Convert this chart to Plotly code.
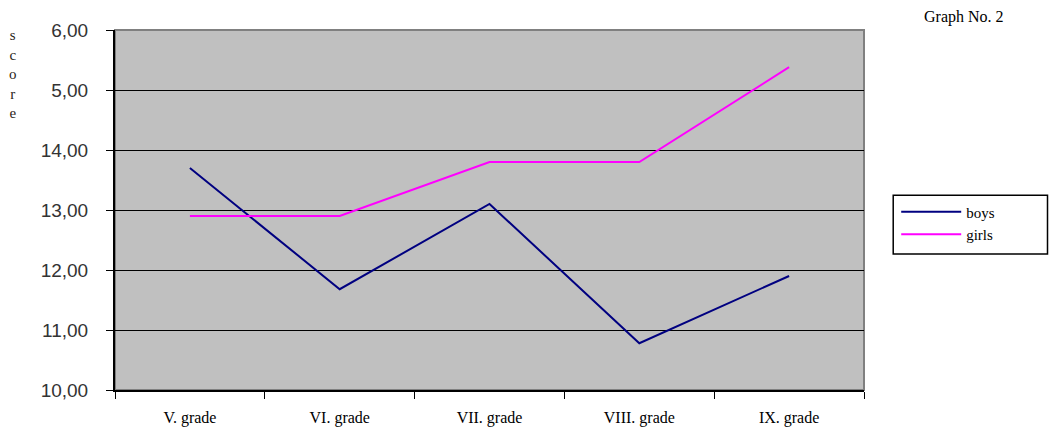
import plotly.graph_objects as go

grades = ["V. grade", "VI. grade", "VII. grade", "VIII. grade", "IX. grade"]
boys = [13.70, 11.68, 13.10, 10.78, 11.90]
girls = [12.90, 12.90, 13.80, 13.80, 15.38]

y_tick_vals = [10, 11, 12, 13, 14, 15, 16]
y_tick_text = ["10,00", "11,00", "12,00", "13,00", "14,00", "5,00", "6,00"]

serif = "Liberation Serif, Times New Roman, serif"
sans = "Liberation Sans, Arial, sans-serif"

fig = go.Figure()
fig.add_trace(go.Scatter(x=grades, y=boys, mode="lines", name="boys",
                         line=dict(color="#000080", width=2)))
fig.add_trace(go.Scatter(x=grades, y=girls, mode="lines", name="girls",
                         line=dict(color="#FF00FF", width=2)))

fig.update_layout(
    width=1050, height=428,
    margin=dict(l=115, r=186, t=30, b=38),
    paper_bgcolor="white",
    plot_bgcolor="#C0C0C0",
    showlegend=True,
    legend=dict(x=1.043, y=0.54, xanchor="left", yanchor="top",
                bgcolor="rgba(0,0,0,0)", borderwidth=0,
                font=dict(family=serif, size=15, color="#000000"),
                itemwidth=60, tracegroupgap=0),
    xaxis=dict(
        type="category", range=[-0.5, 4.5], automargin=False,
        tickson="boundaries", ticks="outside", ticklen=7, tickcolor="#000000",
        ticklabelstandoff=12,
        showgrid=False, showline=True, linecolor="#000000", linewidth=2,
        tickfont=dict(family=serif, size=16, color="#000000"),
        zeroline=False,
    ),
    yaxis=dict(
        range=[10, 16], tickvals=y_tick_vals, ticktext=y_tick_text,
        automargin=False,
        ticks="outside", ticklen=7, tickcolor="#000000",
        ticklabelstandoff=14,
        showgrid=True, gridcolor="#000000", gridwidth=1,
        showline=True, linecolor="#000000", linewidth=2,
        tickfont=dict(family=sans, size=19, color="#333333"),
        zeroline=False,
    ),
    shapes=[
        # frame around the plotting area (top and right edges)
        dict(type="rect", xref="paper", yref="paper", x0=0, x1=1, y0=0, y1=1,
             line=dict(color="#808080", width=2), layer="below"),
        # legend frame
        dict(type="rect", xref="paper", yref="paper",
             x0=1.039, x1=1.245, y0=0.378, y1=0.541,
             line=dict(color="#000000", width=1.5)),
    ],
    annotations=[
        dict(text="Graph No. 2", xref="paper", yref="paper", x=1.077, y=1.0,
             xanchor="left", yanchor="bottom", yshift=2, showarrow=False,
             font=dict(family=serif, size=16, color="#000000")),
        dict(text="s<br>c<br>o<br>r<br>e", xref="paper", yref="paper",
             x=-0.136, y=1.0, xanchor="center", yanchor="top", yshift=5,
             showarrow=False, align="center",
             font=dict(family=serif, size=15, color="#2a2418")),
    ],
)

fig.write_html("out.html")
